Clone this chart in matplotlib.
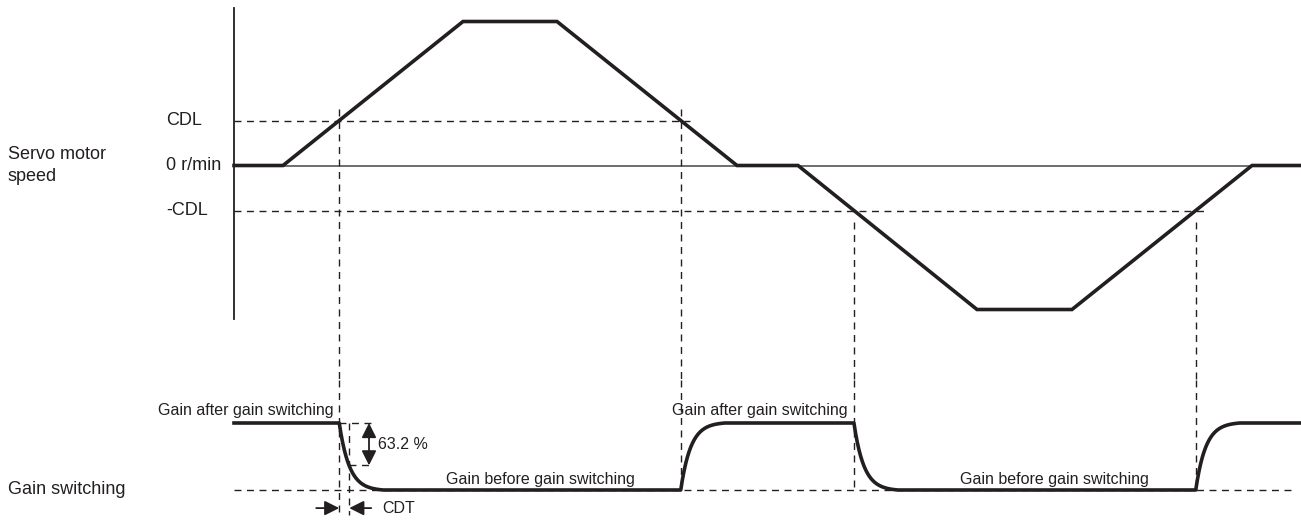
import numpy as np
import matplotlib
matplotlib.use("Agg")
import matplotlib.pyplot as plt

plt.rcParams['font.family'] = ['Liberation Sans', 'DejaVu Sans']

# speed profile (time in arbitrary units, speed in multiples of CDL)
t_speed = [234, 283, 463, 557, 737, 798, 977, 1072, 1252, 1301]
speed = [0, 0, 3.2, 3.2, 0, 0, -3.2, -3.2, 0, 0]
cdl = 1.0
cdt = 10          # gain switching time constant
settle = 44       # time for the gain curve to settle

ink = '#231f20'
dash = (0, (5, 4))

fig = plt.figure(figsize=(13.01, 5.2), dpi=100)
ax1 = fig.add_axes([0, 140 / 520, 1, 380 / 520])
ax2 = fig.add_axes([0, 0, 1, 140 / 520])
ax1.set_xlim(0, 1301)
ax2.set_xlim(0, 1301)
ax1.set_ylim(-380 / 45 + 165.5 / 45, 165.5 / 45)
ax2.set_ylim(-30 / 67, 110 / 67)
for ax in (ax1, ax2):
    ax.axis('off')

# --- speed chart ---
ax1.plot([234, 234], [3.5, -3.4], color=ink, lw=1.3)
ax1.plot([234, 1301], [0, 0], color='#555555', lw=1.2)
ax1.plot([234, 690], [cdl, cdl], color=ink, lw=1, ls=dash)
ax1.plot([234, 1205], [-cdl, -cdl], color=ink, lw=1, ls=dash)
ax1.plot(t_speed, speed, color=ink, lw=2.6, solid_joinstyle='miter')

# crossing times of +/-CDL
t_up = np.interp(cdl, speed[1:3], t_speed[1:3])
t_dn = np.interp(cdl, speed[3:5][::-1], t_speed[3:5][::-1])
t_ndn = np.interp(cdl, [-s for s in speed[5:7]], t_speed[5:7])
t_nup = np.interp(-cdl, speed[7:9], t_speed[7:9])

ax1.text(166, cdl, 'CDL', va='center', ha='left', fontsize=13, color=ink)
ax1.text(166, 0, '0 r/min', va='center', ha='left', fontsize=13, color=ink)
ax1.text(166, -cdl, '-CDL', va='center', ha='left', fontsize=13, color=ink)
ax1.text(8, 0.25, 'Servo motor', va='center', ha='left', fontsize=13, color=ink)
ax1.text(8, -0.25, 'speed', va='center', ha='left', fontsize=13, color=ink)

# vertical dashed guides across both panels
ylo1 = ax1.get_ylim()[0]
yhi2 = ax2.get_ylim()[1]
for t, lvl, bottom in [(t_up, cdl, -0.37), (t_dn, cdl, 0), (t_ndn, -cdl, 0), (t_nup, -cdl, 0)]:
    ax1.plot([t, t], [lvl + 0.25 * np.sign(lvl), ylo1], color=ink, lw=1, ls=dash)
    ax2.plot([t, t], [yhi2, bottom], color=ink, lw=1, ls=dash)
ax2.plot([t_up + cdt, t_up + cdt], [1, -0.37], color=ink, lw=1, ls=dash)

# --- gain switching chart ---
def exp_step(t0, start, end):
    t = np.linspace(0, settle, 80)
    g = np.exp(-t / cdt)
    g = (g - g[-1]) / (1 - g[-1])
    return t0 + t, end + (start - end) * g

segs_t = [np.array([234, t_up])]
segs_g = [np.array([1, 1])]
for t0, a, b, nxt in [(t_up, 1, 0, t_dn), (t_dn, 0, 1, t_ndn), (t_ndn, 1, 0, t_nup), (t_nup, 0, 1, 1301)]:
    tt, gg = exp_step(t0, a, b)
    segs_t += [tt, np.array([tt[-1], nxt])]
    segs_g += [gg, np.array([b, b])]
ax2.plot(np.concatenate(segs_t), np.concatenate(segs_g), color=ink, lw=2.6)

ax2.plot([234, 1293], [0, 0], color=ink, lw=1, ls=dash)

# 63.2 % annotation
lvl632 = 1 - 0.632
ax2.plot([t_up, 373], [1, 1], color=ink, lw=1, ls=dash)
ax2.plot([t_up + cdt, 373], [lvl632, lvl632], color=ink, lw=1, ls=dash)
ax2.annotate('', xy=(369, 1), xytext=(369, lvl632),
             arrowprops=dict(arrowstyle='<|-|>', color=ink, lw=1.3,
                             mutation_scale=22, shrinkA=0, shrinkB=0))
ax2.text(378, (1 + lvl632) / 2, '63.2 %', va='center', ha='left', fontsize=11.5, color=ink)

# CDT annotation
y_cdt = -0.27
ax2.annotate('', xy=(t_up, y_cdt), xytext=(t_up - 23, y_cdt),
             arrowprops=dict(arrowstyle='-|>', color=ink, lw=1.3,
                             mutation_scale=22, shrinkA=0, shrinkB=0))
ax2.annotate('', xy=(t_up + cdt, y_cdt), xytext=(t_up + cdt + 22, y_cdt),
             arrowprops=dict(arrowstyle='-|>', color=ink, lw=1.3,
                             mutation_scale=22, shrinkA=0, shrinkB=0))
ax2.text(382, y_cdt, 'CDT', va='center', ha='left', fontsize=11.5, color=ink)

ax2.text(t_up - 6, 1.19, 'Gain after gain switching', va='center', ha='right', fontsize=11.5, color=ink)
ax2.text(t_ndn - 6, 1.19, 'Gain after gain switching', va='center', ha='right', fontsize=11.5, color=ink)
ax2.text(540, 0.16, 'Gain before gain switching', va='center', ha='center', fontsize=11.5, color=ink)
ax2.text(1054, 0.16, 'Gain before gain switching', va='center', ha='center', fontsize=11.5, color=ink)
ax2.text(8, 0, 'Gain switching', va='center', ha='left', fontsize=13, color=ink)

fig.savefig('out.png', dpi=100)
